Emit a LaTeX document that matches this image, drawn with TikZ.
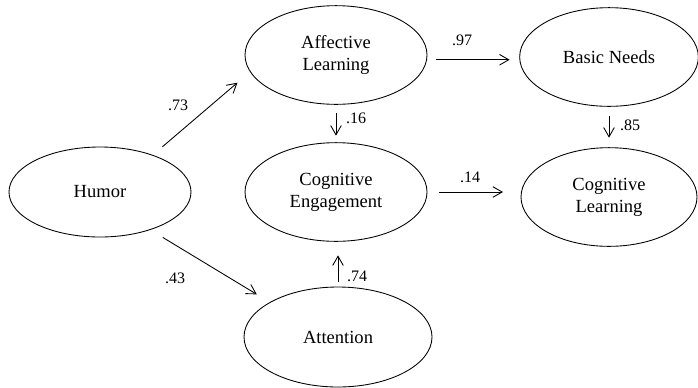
\documentclass[tikz,border=0pt]{standalone}
\usepackage{fontspec}
\setmainfont{Liberation Serif}
\usetikzlibrary{positioning,arrows.meta,shapes.geometric}

\begin{document}
\begin{tikzpicture}[
    x=0.75pt, y=-0.75pt,
    line width=0.65pt,
    latent/.style={draw, ellipse, inner sep=0pt, outer sep=0pt, align=center,
                   minimum width=136.5pt, minimum height=74pt,
                   font=\fontsize{13.9}{16.5}\selectfont},
    wt/.style={font=\fontsize{12}{14}\selectfont, inner sep=0pt},
    flow/.style={-{Straight Barb[length=7pt,width=8pt]}},
  ]
  \useasboundingbox (0,0) rectangle (698,387);

  % --- Latent variables ---------------------------------------------------
  \node[latent, minimum height=67.5pt] (humor) at (100, 192) {Humor};
  \node[latent] (affect) at (336, 55) {Affective\\Learning};
  \node[latent] (coging) at (336, 192) {Cognitive\\Engagement};
  \node[latent, minimum width=141pt, minimum height=75pt] (attn) at (338, 337)
    {Attention};
  \node[latent, minimum width=134pt] (basic) at (609, 57) {Basic Needs};
  \node[latent, minimum width=132pt] (coglrn) at (609, 197)
    {Cognitive\\Learning};

  % --- Path coefficients --------------------------------------------------
  \node[wt] (w73) at (178, 105) {.73};
  \node[wt] (w43) at (175, 278) {.43};
  \node[wt] (w16) at (356, 118) {.16};
  \node[wt] (w74) at (357, 276) {.74};
  \node[wt] (w97) at (462, 40) {.97};
  \node[wt] (w14) at (470, 177) {.14};
  \node[wt] (w85) at (630, 125) {.85};

  % --- Arrows -------------------------------------------------------------
  \draw[flow, shorten <=9.75pt, shorten >=12.75pt] (humor.35) -- (affect.191);
  \draw[flow, shorten <=11.25pt, shorten >=11.7pt] (humor.-37) -- (attn.153);
  \draw[flow, shorten <=6.75pt, shorten >=5.25pt]
    (affect.south) -- (affect.south |- coging.north);
  \draw[flow, shorten <=3.75pt, shorten >=10.5pt]
    (attn.north) -- (attn.north |- coging.south);
  \draw[flow, shorten <=6.75pt, shorten >=7.5pt]
    (affect.-3) -- (affect.-3 -| basic.west);
  \draw[flow, shorten <=9pt, shorten >=13.5pt]
    (coging.east) -- (coging.east -| coglrn.west);
  \draw[flow, shorten <=7.5pt, shorten >=7.5pt]
    (basic.south) -- (basic.south |- coglrn.north);

\end{tikzpicture}
\end{document}
